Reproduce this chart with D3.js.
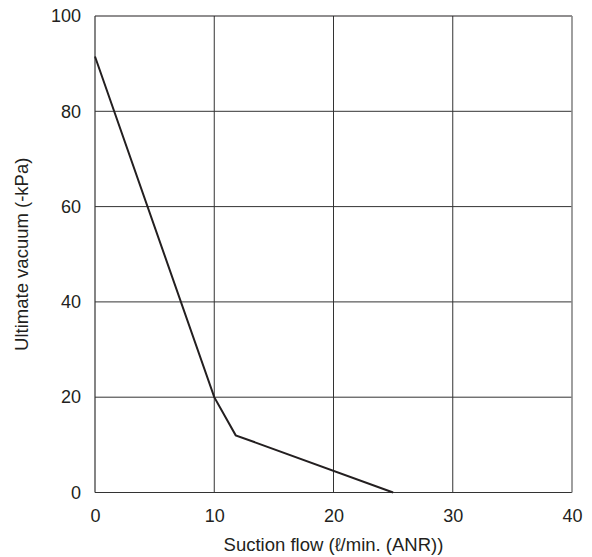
<!DOCTYPE html>
<html>
<head>
<meta charset="utf-8">
<script src="https://cdn.jsdelivr.net/npm/d3@7"></script>
<style>
  html, body { margin: 0; padding: 0; background: #fff; }
  svg { display: block; }
  text { font-family: "Liberation Sans", Arial, sans-serif; fill: #231f20; }
</style>
</head>
<body>
<svg id="chart" width="592" height="557"></svg>
<script>
// Suction flow vs. ultimate vacuum curve
const flowValues = [0, 10, 11.8, 25];
const vacuumValues = [91.5, 20, 12, 0];
const xTicks = [0, 10, 20, 30, 40];
const yTicks = [0, 20, 40, 60, 80, 100];
const xTitle = "Suction flow (ℓ/min. (ANR))";
const yTitle = "Ultimate vacuum (-kPa)";

const svg = d3.select("#chart");
const margin = { left: 95, right: 20, top: 16, bottom: 64.5 };
const W = 592, H = 557;
const font = "'Liberation Sans', Arial, sans-serif";

const x = d3.scaleLinear().domain([0, 40]).range([margin.left, W - margin.right]);
const y = d3.scaleLinear().domain([0, 100]).range([H - margin.bottom, margin.top]);

// grid lines
const grid = svg.append("g");
grid.selectAll("line.v").data(xTicks.slice(1, -1)).join("line")
  .attr("x1", d => x(d)).attr("x2", d => x(d))
  .attr("y1", y(0)).attr("y2", y(100))
  .attr("stroke", "#333").attr("stroke-width", 1);
grid.selectAll("line.h").data(yTicks.slice(1, -1)).join("line")
  .attr("x1", x(0)).attr("x2", x(40))
  .attr("y1", d => y(d)).attr("y2", d => y(d))
  .attr("stroke", "#333").attr("stroke-width", 1);

// frame
svg.append("line").attr("x1", x(0)).attr("x2", x(40)).attr("y1", y(100)).attr("y2", y(100))
  .attr("stroke", "#231f20").attr("stroke-width", 1.2);
svg.append("line").attr("x1", x(0)).attr("x2", x(40)).attr("y1", y(0)).attr("y2", y(0))
  .attr("stroke", "#333").attr("stroke-width", 1.2);
svg.append("line").attr("x1", x(0)).attr("x2", x(0)).attr("y1", y(0)).attr("y2", y(100))
  .attr("stroke", "#333").attr("stroke-width", 1.2);
svg.append("line").attr("x1", x(40)).attr("x2", x(40)).attr("y1", y(0)).attr("y2", y(100))
  .attr("stroke", "#888").attr("stroke-width", 1.6);

// axes (labels only)
const xAxis = svg.append("g").attr("transform", `translate(0,${y(0)})`)
  .call(d3.axisBottom(x).tickValues(xTicks).tickSize(0).tickPadding(17).tickFormat(d3.format("d")));
xAxis.select(".domain").remove();
xAxis.selectAll("text").style("font-size", "18px").attr("fill", "#231f20").style("font-family", font);

const yAxis = svg.append("g").attr("transform", `translate(${x(0)},0)`)
  .call(d3.axisLeft(y).tickValues(yTicks).tickSize(0).tickPadding(14).tickFormat(d3.format("d")));
yAxis.select(".domain").remove();
yAxis.selectAll("text").style("font-size", "18px").attr("fill", "#231f20").style("font-family", font);

// titles
svg.append("text").attr("x", (x(0) + x(40)) / 2).attr("y", 551)
  .attr("text-anchor", "middle").style("font-size", "18.5px").text(xTitle);
svg.append("text").attr("transform", `translate(28,${(y(0) + y(100)) / 2}) rotate(-90)`)
  .attr("text-anchor", "middle").style("font-size", "18.5px").text(yTitle);

// curve
const pts = flowValues.map((f, i) => [f, vacuumValues[i]]);
svg.append("path").datum(pts)
  .attr("d", d3.line().x(d => x(d[0])).y(d => y(d[1])))
  .attr("fill", "none").attr("stroke", "#231f20").attr("stroke-width", 2)
  .attr("stroke-linejoin", "miter");
</script>
</body>
</html>
